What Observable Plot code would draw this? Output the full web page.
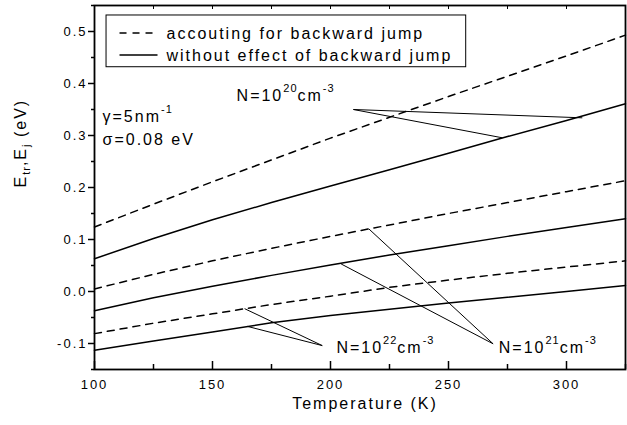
<!DOCTYPE html>
<html><head><meta charset="utf-8">
<script src="https://cdn.jsdelivr.net/npm/d3@7"></script>
<script src="https://cdn.jsdelivr.net/npm/@observablehq/plot@0.6"></script>
<style>
body{margin:0;background:#fff}
#chart svg text{letter-spacing:2px}
</style></head><body><div id="chart"></div>
<script>
// ---- data ----
const temperature = [100,125,150,175,200,225,250,275,300,325];
const n20Backward = [0.124,0.168,0.211,0.253,0.295,0.335,0.375,0.414,0.453,0.493];
const n20Without  = [0.063,0.102,0.138,0.171,0.203,0.234,0.266,0.298,0.329,0.361];
const n21Backward = [0.005,0.033,0.059,0.083,0.106,0.128,0.150,0.171,0.192,0.213];
const n21Without  = [-0.037,-0.012,0.010,0.031,0.051,0.070,0.088,0.106,0.123,0.140];
const n22Backward = [-0.081,-0.061,-0.043,-0.025,-0.009,0.008,0.022,0.035,0.047,0.059];
const n22Without  = [-0.113,-0.095,-0.078,-0.060,-0.046,-0.034,-0.022,-0.011,0.000,0.0115];

const seriesNames = ["N20 backward","N20 without","N21 backward","N21 without","N22 backward","N22 without"];
const seriesValues = [n20Backward,n20Without,n21Backward,n21Without,n22Backward,n22Without];
const seriesDashed = [true,false,true,false,true,false];

const xMajor = [100,150,200,250,300];
const xMinor = [125,175,225,275,325];
const yMajor = [-0.1,0,0.1,0.2,0.3,0.4,0.5];
const yMinor = [-0.15,-0.05,0.05,0.15,0.25,0.35,0.45,0.55];

const legendLabels = ["accouting for backward jump","without effect of backward jump"];
const noteLabels = ["N=10^{20}cm^{-3}","N=10^{21}cm^{-3}","N=10^{22}cm^{-3}","γ=5nm^{-1}","σ=0.08 eV"];
const noteX = [160.2,271.3,202.5,103.4,103.4];
const noteY = [0.3756,-0.1087,-0.1087,0.3365,0.2913];

// leader lines (annotation) from label to curves
const leadX1 = [209.7,209.7,268.9,268.9,196.5,196.5];
const leadY1 = [0.350,0.350,-0.1006,-0.1006,-0.104,-0.104];
const leadX2 = [306.7,272.8,216.2,204.5,163.6,164.7];
const leadY2 = [0.334,0.2956,0.1206,0.053,-0.033,-0.067];

// ---- build ----
const rows = [];
seriesNames.forEach((s,i)=>temperature.forEach((t,j)=>rows.push({series:s,T:t,E:seriesValues[i][j],dashed:seriesDashed[i]})));
const leaders = leadX1.map((d,i)=>({x1:d,y1:leadY1[i],x2:leadX2[i],y2:leadY2[i]}));
const notes = noteLabels.map((d,i)=>({label:d,x:noteX[i],y:noteY[i]}));

const font = "'Liberation Sans', Arial, Helvetica, sans-serif";
const plot = Plot.plot({
  width: 627, height: 425,
  marginLeft: 94, marginRight: 2, marginTop: 5, marginBottom: 56,
  style: {fontFamily: font, fontSize: "13px", color: "black", background: "white"},
  x: {domain: [100,325]},
  y: {domain: [-0.15,0.55]},
  marks: [
    // lines
    Plot.line(rows.filter(d=>d.dashed), {x:"T", y:"E", z:"series", stroke:"black", strokeWidth:1.5, strokeDasharray:"7,6"}),
    Plot.line(rows.filter(d=>!d.dashed), {x:"T", y:"E", z:"series", stroke:"black", strokeWidth:1.5}),
    // annotation leaders
    Plot.link(leaders, {x1:"x1", y1:"y1", x2:"x2", y2:"y2", stroke:"black", strokeWidth:1}),
    // legend
    Plot.rect([0], {x1:105.1, x2:257.5, y1:0.4313, y2:0.5308, fill:"white", stroke:"black", strokeWidth:1}),
    Plot.link([0], {x1:110.6, x2:126.7, y1:0.497, y2:0.497, stroke:"black", strokeWidth:1.5, strokeDasharray:"7,6"}),
    Plot.link([0], {x1:110.6, x2:126.7, y1:0.455, y2:0.455, stroke:"black", strokeWidth:1.5}),
    Plot.text(legendLabels, {text:d=>d, x:130.5, y:(d,i)=>i===0?0.496:0.4538, textAnchor:"start", fontSize:16}),
    // notes
    Plot.text(notes, {text:"label", x:"x", y:"y", textAnchor:"start", fontSize:16}),
    // ticks: left outward, bottom inward, top inward
    Plot.ruleY(yMajor, {y:d=>d, x1:100, x2:100, insetLeft:-6, stroke:"black", strokeWidth:1.5}),
    Plot.ruleY(yMinor, {y:d=>d, x1:100, x2:100, insetLeft:-3, stroke:"black", strokeWidth:1.5}),
    Plot.ruleX(xMajor, {x:d=>d, y1:-0.15, y2:-0.15, insetBottom:8, stroke:"black", strokeWidth:1.5}),
    Plot.ruleX(xMinor, {x:d=>d, y1:-0.15, y2:-0.15, insetBottom:5, stroke:"black", strokeWidth:1.5}),
    Plot.ruleX(xMajor.concat(xMinor), {x:d=>d, y1:0.55, y2:0.55, insetBottom:-4, stroke:"black", strokeWidth:1}),
    // axis labels
    Plot.axisY({ticks:yMajor, tickSize:0, tickPadding:7, tickFormat:d=>d.toFixed(1), label:null, fontSize:13}),
    Plot.axisX({ticks:xMajor, tickSize:0, tickPadding:10, tickFormat:d=>String(d), label:null, fontSize:13}),
    Plot.text(["E_{tr},E_{j} (eV)"], {text:d=>d, frameAnchor:"left", dx:-74, rotate:-90, fontSize:16}),
    Plot.text(["Temperature (K)"], {text:d=>d, frameAnchor:"bottom", dy:39, dx:5, fontSize:16}),
    Plot.frame({stroke:"black", strokeWidth:1.8})
  ]
});

// rich text: ^{...} superscript, _{...} subscript
const NS = "http://www.w3.org/2000/svg";
plot.querySelectorAll("text").forEach(t=>{
  const s = t.textContent;
  if (!/[\^_]\{/.test(s) || t.querySelector("tspan")) return;
  t.textContent = "";
  const re = /([\^_])\{([^}]*)\}|([^\^_]+)/g;
  let m, shift = 0;
  while ((m = re.exec(s))) {
    const ts = document.createElementNS(NS, "tspan");
    if (m[1]) {
      const d = m[1] === "^" ? -9 : 4;
      ts.setAttribute("dy", d - shift); shift = d;
      ts.setAttribute("font-size", "11");
      ts.style.letterSpacing = "1px";
      ts.textContent = m[2];
    } else {
      ts.setAttribute("dy", -shift); shift = 0;
      ts.textContent = m[3];
    }
    t.appendChild(ts);
  }
});
document.getElementById("chart").appendChild(plot);
</script></body></html>
